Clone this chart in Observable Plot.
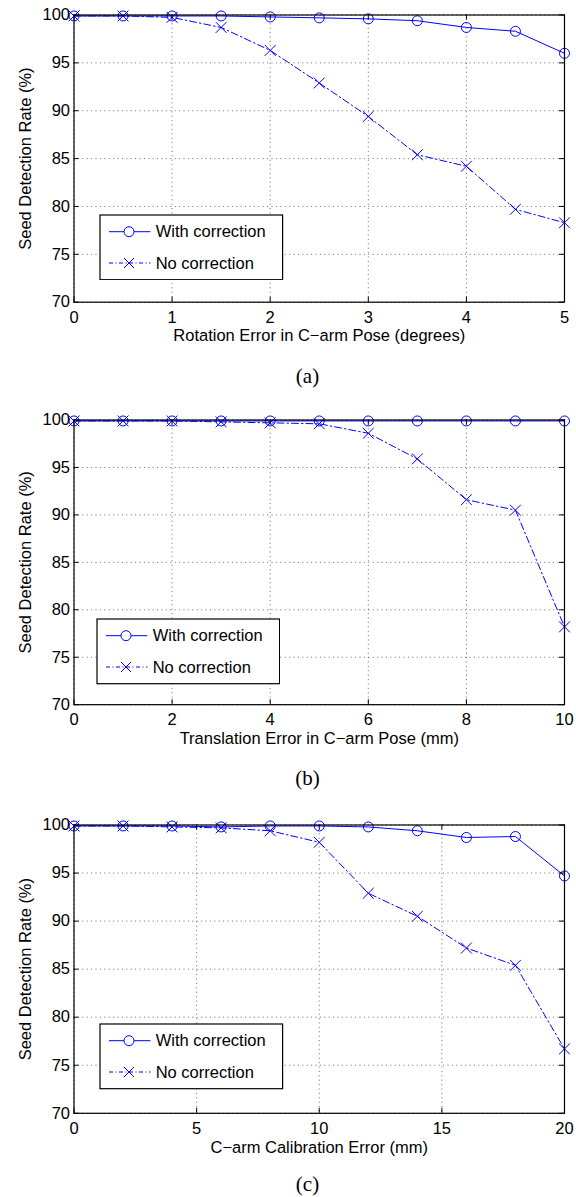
<!DOCTYPE html>
<html><head><meta charset="utf-8">
<script src="https://cdn.jsdelivr.net/npm/d3@7"></script>
<script src="https://cdn.jsdelivr.net/npm/@observablehq/plot@0.6"></script>
<style>
body{margin:0;background:#fff;}
#root{position:relative;width:576px;height:1197px;overflow:hidden;background:#fff;font-family:"Liberation Sans",Arial,sans-serif;}
.panel{position:absolute;left:0;}
.cap{position:absolute;font-family:"Liberation Serif","Times New Roman",serif;font-size:21px;transform:translate(-50%,-50%);white-space:nowrap;color:#000;}
.legend{position:absolute;}
</style></head><body><div id="root"></div>
<script>
// ---- data ----
const seriesNames = ["With correction", "No correction"];
const yLabel = "Seed Detection Rate (%)";
const yTicks = [70, 75, 80, 85, 90, 95, 100];

const xA = [0, 0.5, 1, 1.5, 2, 2.5, 3, 3.5, 4, 4.5, 5];
const withA = [99.9, 99.9, 99.9, 99.9, 99.8, 99.7, 99.6, 99.4, 98.7, 98.3, 96.0];
const noA = [99.9, 99.9, 99.75, 98.7, 96.3, 92.9, 89.4, 85.4, 84.2, 79.7, 78.3];
const xTicksA = [0, 1, 2, 3, 4, 5];
const xLabelA = "Rotation Error in C\u2212arm Pose (degrees)";
const capA = "(a)";

const xB = [0, 1, 2, 3, 4, 5, 6, 7, 8, 9, 10];
const withB = [99.9, 99.9, 99.9, 99.9, 99.9, 99.9, 99.9, 99.9, 99.9, 99.9, 99.9];
const noB = [99.9, 99.9, 99.9, 99.8, 99.7, 99.6, 98.6, 95.9, 91.6, 90.5, 78.2];
const xTicksB = [0, 2, 4, 6, 8, 10];
const xLabelB = "Translation Error in C\u2212arm Pose (mm)";
const capB = "(b)";

const xC = [0, 2, 4, 6, 8, 10, 12, 14, 16, 18, 20];
const withC = [99.9, 99.9, 99.9, 99.8, 99.9, 99.9, 99.8, 99.4, 98.7, 98.8, 94.7];
const noC = [99.9, 99.9, 99.8, 99.7, 99.4, 98.2, 92.9, 90.5, 87.2, 85.4, 76.7];
const xTicksC = [0, 5, 10, 15, 20];
const xLabelC = "C\u2212arm Calibration Error (mm)";
const capC = "(c)";

// ---- drawing ----
const root = document.getElementById("root");
const BLUE = "#0000ff";
const DASHDOT = "7,3,1.5,3";
const FONT = "'Liberation Sans', Arial, Helvetica, sans-serif";

function panel({xs, withVals, noVals, xTicks, xLabel, caption, top, frameH, legendDx, capY}) {
  const mT = 14.5, mB = 48, mL = 73.5, mR = 12;
  const W = 576, frameW = W - mL - mR;
  const withData = xs.map((x, i) => ({x, y: withVals[i]}));
  const noData = xs.map((x, i) => ({x, y: noVals[i]}));
  const gridStyle = {stroke: "#000", strokeOpacity: 0.6, strokeDasharray: "1,3.4", strokeWidth: 1};
  const svg = Plot.plot({
    width: W, height: mT + frameH + mB,
    marginTop: mT, marginBottom: mB, marginLeft: mL, marginRight: mR,
    style: {fontFamily: FONT, fontSize: "16.5px", background: "transparent", color: "#000", overflow: "visible"},
    x: {domain: [xTicks[0], xTicks[xTicks.length - 1]]},
    y: {domain: [70, 100]},
    marks: [
      Plot.gridX(xTicks, gridStyle),
      Plot.gridY(yTicks, gridStyle),
      Plot.line(withData, {x: "x", y: "y", stroke: BLUE, strokeWidth: 1}),
      Plot.line(noData, {x: "x", y: "y", stroke: BLUE, strokeWidth: 1, strokeDasharray: DASHDOT}),
      Plot.dot(withData, {x: "x", y: "y", r: 5, stroke: BLUE, fill: "none", strokeWidth: 1}),
      Plot.dot(noData, {x: "x", y: "y", r: 5, stroke: BLUE, symbol: "times", strokeWidth: 1}),
      Plot.frame({stroke: "#000", strokeWidth: 1.2}),
      // inward ticks on all four sides
      Plot.ruleX(xTicks, {x: d => d, insetTop: frameH - 5, stroke: "#000"}),
      Plot.ruleX(xTicks, {x: d => d, insetBottom: frameH - 5, stroke: "#000"}),
      Plot.ruleY(yTicks, {y: d => d, insetRight: frameW - 5, stroke: "#000"}),
      Plot.ruleY(yTicks, {y: d => d, insetLeft: frameW - 5, stroke: "#000"}),
      Plot.axisX(xTicks, {anchor: "bottom", tickSize: 0, tickPadding: 9, label: null, tickFormat: d => String(d), fill: "#000"}),
      Plot.axisY(yTicks, {anchor: "left", tickSize: 0, tickPadding: 4, label: null, tickFormat: d => String(d), fill: "#000"}),
      Plot.text([xLabel], {frameAnchor: "bottom", dy: 34, text: d => d, textAnchor: "middle", lineAnchor: "middle", fill: "#000"}),
      Plot.text([yLabel], {frameAnchor: "left", dx: -48.7, rotate: -90, text: d => d, textAnchor: "middle", lineAnchor: "middle", fill: "#000"})
    ]
  });
  svg.classList.add("panel");
  svg.style.top = top + "px";
  root.appendChild(svg);

  // legend box overlay
  const lw = 182.6, lh = 64.7;
  const leg = d3.create("svg").attr("class", "legend")
    .attr("width", lw + 2).attr("height", lh + 2)
    .style("left", (mL + legendDx - 1) + "px")
    .style("top", (top + mT + 200 - 1) + "px");
  const g = leg.append("g").attr("transform", "translate(1,1)");
  g.append("rect").attr("width", lw).attr("height", lh).attr("fill", "#fff").attr("stroke", "#000").attr("stroke-width", 1.2);
  const entries = [{name: seriesNames[0], y: 16.7, dash: null, sym: "circle"},
                   {name: seriesNames[1], y: 48, dash: "4,2.5,1,2.5", sym: "times"}];
  entries.forEach(e => {
    g.append("line").attr("x1", 9).attr("x2", 50.4).attr("y1", e.y).attr("y2", e.y)
      .attr("stroke", BLUE).attr("stroke-width", 1).attr("stroke-dasharray", e.dash);
    if (e.sym === "circle") {
      g.append("circle").attr("cx", 29).attr("cy", e.y).attr("r", 5).attr("fill", "#fff").attr("stroke", BLUE);
    } else {
      g.append("path").attr("d", `M${29-5},${e.y-5}L${29+5},${e.y+5}M${29-5},${e.y+5}L${29+5},${e.y-5}`)
        .attr("stroke", BLUE).attr("fill", "none");
    }
    g.append("text").attr("x", 55.7).attr("y", e.y).attr("dy", "0.35em")
      .attr("font-family", FONT).attr("font-size", "16.5px").attr("fill", "#000").text(e.name);
  });
  root.appendChild(leg.node());

  const cap = document.createElement("div");
  cap.className = "cap";
  cap.textContent = caption;
  cap.style.left = "307.5px";
  cap.style.top = capY + "px";
  root.appendChild(cap);
}

panel({xs: xA, withVals: withA, noVals: noA, xTicks: xTicksA, xLabel: xLabelA, caption: capA,
       top: 0.2, frameH: 287.2, legendDx: 26.8, capY: 376});
panel({xs: xB, withVals: withB, noVals: noB, xTicks: xTicksB, xLabel: xLabelB, caption: capB,
       top: 404.8, frameH: 284.7, legendDx: 23.2, capY: 777.7});
panel({xs: xC, withVals: withC, noVals: noC, xTicks: xTicksC, xLabel: xLabelC, caption: capC,
       top: 809.5, frameH: 288.3, legendDx: 26.8, capY: 1184});
</script>
</body></html>
